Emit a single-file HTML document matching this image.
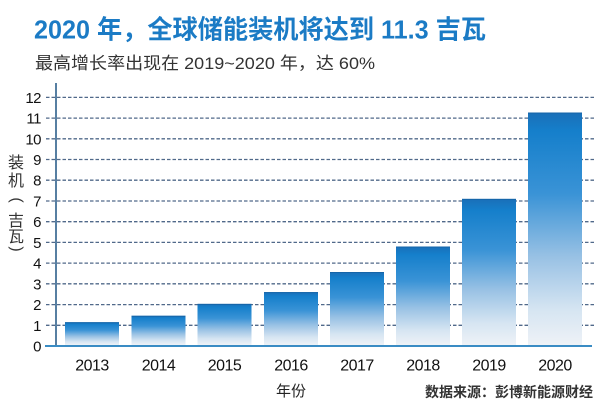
<!DOCTYPE html>
<html>
<head>
<meta charset="utf-8">
<style>
  html,body{margin:0;padding:0;background:#fff;}
  svg{display:block;}
  .cjk{font-family:"Liberation Sans","Noto Sans CJK SC",sans-serif;}
</style>
</head>
<body>
<svg width="610" height="406" viewBox="0 0 610 406" xmlns="http://www.w3.org/2000/svg">
  <defs>
    <linearGradient id="g" x1="0" y1="0" x2="0" y2="1">
      <stop offset="0" stop-color="#1a6fb8"/>
      <stop offset="0.08" stop-color="#157fcb"/>
      <stop offset="0.35" stop-color="#3a93d6"/>
      <stop offset="0.62" stop-color="#98c1e4"/>
      <stop offset="0.85" stop-color="#d6e5f2"/>
      <stop offset="1" stop-color="#eef2f7"/>
    </linearGradient>
  </defs>
  <rect width="610" height="406" fill="#fff"/>

  <!-- Title -->
  <text x="34" y="38.5" class="cjk" font-size="26" font-weight="bold" fill="#1b7bc5" textLength="452" lengthAdjust="spacingAndGlyphs">2020 年，全球储能装机将达到 11.3 吉瓦</text>
  <!-- Subtitle -->
  <text x="35" y="69" class="cjk" font-size="17" fill="#333" textLength="340" lengthAdjust="spacingAndGlyphs">最高增长率出现在 2019~2020 年，达 60%</text>

  <!-- Gridlines -->
  <g stroke="#50698a" stroke-width="1.3" stroke-dasharray="3.5 2">
    <line x1="46" x2="595" y1="325.3" y2="325.3"/>
    <line x1="46" x2="595" y1="304.6" y2="304.6"/>
    <line x1="46" x2="595" y1="283.8" y2="283.8"/>
    <line x1="46" x2="595" y1="263.1" y2="263.1"/>
    <line x1="46" x2="595" y1="242.4" y2="242.4"/>
    <line x1="46" x2="595" y1="221.7" y2="221.7"/>
    <line x1="46" x2="595" y1="201" y2="201"/>
    <line x1="46" x2="595" y1="180.2" y2="180.2"/>
    <line x1="46" x2="595" y1="159.5" y2="159.5"/>
    <line x1="46" x2="595" y1="138.8" y2="138.8"/>
    <line x1="46" x2="595" y1="118.1" y2="118.1"/>
    <line x1="46" x2="595" y1="97.4" y2="97.4"/>
  </g>

  <!-- Bars -->
  <g fill="url(#g)">
    <rect x="65" y="322.2" width="54" height="22.8"/>
    <rect x="131.5" y="315.8" width="54" height="29.2"/>
    <rect x="197.5" y="303.9" width="54" height="41.1"/>
    <rect x="264" y="292.1" width="54" height="52.9"/>
    <rect x="330" y="272" width="54" height="73"/>
    <rect x="396" y="246.5" width="54" height="98.5"/>
    <rect x="462" y="198.9" width="54" height="146.1"/>
    <rect x="528" y="112.5" width="54" height="232.5"/>
  </g>
  <g stroke="#1565a8" stroke-width="1">
    <line x1="65" x2="119" y1="322.7" y2="322.7"/>
    <line x1="131.5" x2="185.5" y1="316.3" y2="316.3"/>
    <line x1="197.5" x2="251.5" y1="304.4" y2="304.4"/>
    <line x1="264" x2="318" y1="292.6" y2="292.6"/>
    <line x1="330" x2="384" y1="272.5" y2="272.5"/>
    <line x1="396" x2="450" y1="247" y2="247"/>
    <line x1="462" x2="516" y1="199.4" y2="199.4"/>
    <line x1="528" x2="582" y1="113" y2="113"/>
  </g>

  <!-- Axes -->
  <line x1="56" x2="56" y1="83" y2="346" stroke="#2d5f8a" stroke-width="1.6"/>
  <line x1="45" x2="592" y1="346" y2="346" stroke="#3a8cc4" stroke-width="2"/>

  <!-- Y tick labels -->
  <g font-family="Liberation Sans, sans-serif" font-size="15" fill="#111" text-anchor="end" letter-spacing="-0.5">
    <text x="41" y="351.5">0</text>
    <text x="41" y="330.8">1</text>
    <text x="41" y="310.1">2</text>
    <text x="41" y="289.3">3</text>
    <text x="41" y="268.6">4</text>
    <text x="41" y="247.9">5</text>
    <text x="41" y="227.2">6</text>
    <text x="41" y="206.5">7</text>
    <text x="41" y="185.7">8</text>
    <text x="41" y="165">9</text>
    <text x="41" y="144.3">10</text>
    <text x="41" y="123.6">11</text>
    <text x="41" y="102.9">12</text>
  </g>

  <!-- Y axis title (stacked vertically) -->
  <g class="cjk" font-size="16" fill="#333" text-anchor="middle">
    <text x="16" y="168">装</text>
    <text x="16" y="186">机</text>
    <text x="16" y="204.2" transform="rotate(90 16 200)" font-family="Liberation Sans, sans-serif">(</text>
    <text x="16" y="226">吉</text>
    <text x="16" y="242">瓦</text>
    <text x="16" y="253.2" transform="rotate(90 16 249)" font-family="Liberation Sans, sans-serif">)</text>
  </g>

  <!-- X labels -->
  <g font-family="Liberation Sans, sans-serif" font-size="16" fill="#111" text-anchor="middle" letter-spacing="-0.5">
    <text x="92" y="370.7">2013</text>
    <text x="158.5" y="370.7">2014</text>
    <text x="224.5" y="370.7">2015</text>
    <text x="291" y="370.7">2016</text>
    <text x="357" y="370.7">2017</text>
    <text x="423" y="370.7">2018</text>
    <text x="489" y="370.7">2019</text>
    <text x="555" y="370.7">2020</text>
  </g>
  <text x="291" y="396" class="cjk" font-size="15" fill="#222" text-anchor="middle">年份</text>

  <!-- Source -->
  <text x="425" y="397" class="cjk" font-size="14" font-weight="bold" fill="#333" textLength="168" lengthAdjust="spacingAndGlyphs">数据来源：彭博新能源财经</text>
</svg>
</body>
</html>
